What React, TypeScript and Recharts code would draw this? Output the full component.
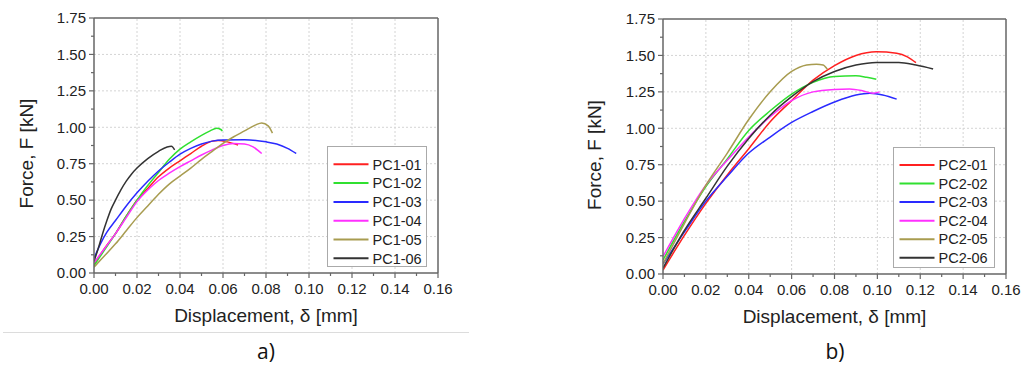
import React from 'react';
import { LineChart, Line, XAxis, YAxis, ReferenceLine } from 'recharts';

// ---------- axis ticks ----------
const xMajor = [0, 0.02, 0.04, 0.06, 0.08, 0.1, 0.12, 0.14, 0.16];
const xMinor = [0.01, 0.03, 0.05, 0.07, 0.09, 0.11, 0.13, 0.15];
const yMajor = [0, 0.25, 0.5, 0.75, 1.0, 1.25, 1.5, 1.75];
const yMinor = [0.125, 0.375, 0.625, 0.875, 1.125, 1.375, 1.625];

// ---------- series names / colours ----------
const pc1Names = ['PC1-01', 'PC1-02', 'PC1-03', 'PC1-04', 'PC1-05', 'PC1-06'];
const pc2Names = ['PC2-01', 'PC2-02', 'PC2-03', 'PC2-04', 'PC2-05', 'PC2-06'];
const colors = ['#ff2020', '#30e030', '#2a2aff', '#ff30ff', '#a89c50', '#333333'];

type P = { x: number; y: number };
const pts = (a: number[][]): P[] => a.map(([x, y]) => ({ x, y }));

// ---------- panel a) data ----------
const pc1_01 = pts([[0, 0.06], [0.005, 0.17], [0.01, 0.27], [0.015, 0.39], [0.02, 0.5], [0.025, 0.58], [0.03, 0.66], [0.035, 0.72], [0.04, 0.77], [0.045, 0.82], [0.05, 0.87], [0.055, 0.905], [0.058, 0.91], [0.062, 0.9], [0.067, 0.878]]);
const pc1_02 = pts([[0, 0.05], [0.005, 0.16], [0.01, 0.27], [0.015, 0.39], [0.02, 0.5], [0.025, 0.6], [0.03, 0.69], [0.035, 0.78], [0.04, 0.85], [0.045, 0.9], [0.05, 0.945], [0.054, 0.975], [0.057, 0.993], [0.059, 0.985], [0.0597, 0.975]]);
const pc1_03 = pts([[0, 0.1], [0.003, 0.2], [0.006, 0.28], [0.01, 0.36], [0.015, 0.46], [0.02, 0.55], [0.025, 0.63], [0.03, 0.7], [0.035, 0.76], [0.04, 0.815], [0.045, 0.855], [0.05, 0.885], [0.055, 0.905], [0.06, 0.913], [0.07, 0.915], [0.08, 0.9], [0.085, 0.885], [0.09, 0.855], [0.094, 0.82]]);
const pc1_04 = pts([[0, 0.07], [0.005, 0.17], [0.01, 0.27], [0.015, 0.38], [0.02, 0.49], [0.025, 0.57], [0.03, 0.635], [0.035, 0.685], [0.04, 0.73], [0.045, 0.77], [0.05, 0.81], [0.055, 0.845], [0.06, 0.875], [0.065, 0.888], [0.07, 0.885], [0.074, 0.865], [0.078, 0.82]]);
const pc1_05 = pts([[0, 0.04], [0.005, 0.12], [0.01, 0.2], [0.015, 0.29], [0.02, 0.38], [0.025, 0.46], [0.03, 0.54], [0.035, 0.61], [0.04, 0.665], [0.045, 0.72], [0.05, 0.78], [0.055, 0.835], [0.06, 0.89], [0.065, 0.935], [0.07, 0.975], [0.075, 1.015], [0.078, 1.03], [0.081, 1.01], [0.083, 0.96]]);
const pc1_06 = pts([[0, 0.08], [0.002, 0.17], [0.004, 0.27], [0.006, 0.36], [0.008, 0.44], [0.01, 0.5], [0.0125, 0.57], [0.015, 0.63], [0.0175, 0.68], [0.02, 0.72], [0.025, 0.785], [0.03, 0.835], [0.034, 0.865], [0.036, 0.87], [0.0375, 0.845]]);

// ---------- panel b) data ----------
const pc2_01 = pts([[0, 0.027], [0.0096, 0.256], [0.02, 0.485], [0.03, 0.68], [0.04, 0.86], [0.05, 1.045], [0.06, 1.19], [0.07, 1.33], [0.08, 1.43], [0.09, 1.5], [0.0995, 1.525], [0.109, 1.515], [0.114, 1.49], [0.118, 1.45]]);
const pc2_02 = pts([[0, 0.096], [0.0096, 0.35], [0.02, 0.6], [0.03, 0.79], [0.04, 0.985], [0.05, 1.12], [0.06, 1.235], [0.07, 1.315], [0.08, 1.355], [0.09, 1.36], [0.095, 1.35], [0.0995, 1.336]]);
const pc2_03 = pts([[0, 0.07], [0.0096, 0.28], [0.02, 0.5], [0.03, 0.67], [0.04, 0.83], [0.05, 0.94], [0.06, 1.04], [0.07, 1.115], [0.08, 1.18], [0.09, 1.228], [0.0965, 1.24], [0.1025, 1.228], [0.109, 1.2]]);
const pc2_04 = pts([[0, 0.12], [0.0096, 0.37], [0.02, 0.61], [0.03, 0.78], [0.04, 0.94], [0.05, 1.08], [0.06, 1.19], [0.07, 1.25], [0.08, 1.267], [0.087, 1.27], [0.093, 1.258], [0.098, 1.24], [0.101, 1.25]]);
const pc2_05 = pts([[0, 0.07], [0.0096, 0.336], [0.02, 0.61], [0.03, 0.83], [0.04, 1.06], [0.05, 1.25], [0.06, 1.39], [0.067, 1.434], [0.0716, 1.44], [0.0747, 1.434], [0.0767, 1.404]]);
const pc2_06 = pts([[0, 0.04], [0.0096, 0.29], [0.02, 0.52], [0.03, 0.74], [0.04, 0.93], [0.05, 1.09], [0.06, 1.217], [0.07, 1.32], [0.08, 1.39], [0.09, 1.434], [0.0995, 1.452], [0.11, 1.452], [0.118, 1.434], [0.126, 1.407]]);

const pc1Series = [pc1_01, pc1_02, pc1_03, pc1_04, pc1_05, pc1_06];
const pc2Series = [pc2_01, pc2_02, pc2_03, pc2_04, pc2_05, pc2_06];

const FONT = '"Liberation Sans", Arial, sans-serif';
const AXIS = '#666';
const xTicks = [...xMajor, ...xMinor].sort((a, b) => a - b);
const yTicks = [...yMajor, ...yMinor].sort((a, b) => a - b);

const XTick = (props: any) => {
  const { x, y, payload } = props;
  const major = xMajor.includes(payload.value);
  return (
    <g>
      <line x1={x} x2={x} y1={y} y2={y + (major ? 5 : 3)} stroke={AXIS} strokeWidth={1.2} />
      {major && (
        <text x={x} y={y + 21} textAnchor="middle" fontSize={15} fontFamily={FONT} fill="#222">
          {payload.value.toFixed(2)}
        </text>
      )}
    </g>
  );
};

const YTick = (props: any) => {
  const { x, y, payload } = props;
  const major = yMajor.includes(payload.value);
  return (
    <g>
      <line x1={x} x2={x - (major ? 5 : 3)} y1={y} y2={y} stroke={AXIS} strokeWidth={1.2} />
      {major && (
        <text x={x - 8} y={y + 5.3} textAnchor="end" fontSize={15} fontFamily={FONT} fill="#222">
          {payload.value.toFixed(2)}
        </text>
      )}
    </g>
  );
};

type PanelProps = {
  series: P[][];
  names: string[];
  width: number;
  height: number;
  margin: { top: number; right: number; bottom: number; left: number };
  yAxisWidth: number;
  xAxisHeight: number;
};

const Panel = ({ series, names, width, height, margin, yAxisWidth, xAxisHeight }: PanelProps) => (
  <LineChart width={width} height={height} margin={margin}>
    <XAxis
      type="number"
      dataKey="x"
      domain={[0, 0.16]}
      ticks={xTicks}
      interval={0}
      tickSize={0}
      tickMargin={0}
      tickLine={false}
      tick={XTick}
      height={xAxisHeight}
      axisLine={{ stroke: AXIS, strokeWidth: 1.5 }}
      allowDataOverflow
    />
    <YAxis
      type="number"
      dataKey="y"
      domain={[0, 1.75]}
      ticks={yTicks}
      interval={0}
      tickSize={0}
      tickMargin={0}
      tickLine={false}
      tick={YTick}
      width={yAxisWidth}
      axisLine={{ stroke: AXIS, strokeWidth: 1.5 }}
      allowDataOverflow
    />
    {xMajor.slice(1, -1).map((v) => (
      <ReferenceLine key={'gx' + v} x={v} stroke="#d4d4d4" strokeDasharray="2 2" strokeWidth={1} />
    ))}
    {yMajor.slice(1, -1).map((v) => (
      <ReferenceLine key={'gy' + v} y={v} stroke="#d4d4d4" strokeDasharray="2 2" strokeWidth={1} />
    ))}
    <ReferenceLine x={0.16} stroke={AXIS} strokeWidth={1.5} />
    <ReferenceLine y={1.75} stroke={AXIS} strokeWidth={1.5} />
    {series.map((d, i) => (
      <Line
        key={names[i]}
        data={d}
        dataKey="y"
        name={names[i]}
        type="monotone"
        stroke={colors[i]}
        strokeWidth={1.5}
        dot={false}
        activeDot={false}
        isAnimationActive={false}
      />
    ))}
  </LineChart>
);

const LegendBox = ({ names, left, top, w, h, row0, dy }: { names: string[]; left: number; top: number; w: number; h: number; row0: number; dy: number }) => (
  <g>
    <rect x={left} y={top} width={w} height={h} fill="#fff" stroke="#aaa" strokeWidth={1} />
    {names.map((n, i) => {
      const cy = row0 + i * dy;
      return (
        <g key={n}>
          <line x1={left + 6} x2={left + 41} y1={cy} y2={cy} stroke={colors[i]} strokeWidth={2} />
          <text x={left + 45} y={cy + 5.2} fontSize={14.5} fontFamily={FONT} fill="#222">
            {n}
          </text>
        </g>
      );
    })}
  </g>
);

export default function App() {
  return (
    <div style={{ position: 'absolute', left: 0, top: 0, width: 1024, height: 367, overflow: 'hidden', background: '#fff' }}>
      <div style={{ position: 'absolute', left: 0, top: 0 }}>
        <Panel
          series={pc1Series}
          names={pc1Names}
          width={460}
          height={330}
          margin={{ top: 18, right: 22, bottom: 0, left: 0 }}
          yAxisWidth={94}
          xAxisHeight={57}
        />
      </div>
      <div style={{ position: 'absolute', left: 560, top: 0 }}>
        <Panel
          series={pc2Series}
          names={pc2Names}
          width={464}
          height={330}
          margin={{ top: 19, right: 18, bottom: 0, left: 0 }}
          yAxisWidth={103}
          xAxisHeight={56}
        />
      </div>
      <svg width={1024} height={367} style={{ position: 'absolute', left: 0, top: 0, pointerEvents: 'none' }}>
        <LegendBox names={pc1Names} left={327.5} top={146.5} w={99} h={120} row0={164.3} dy={18.8} />
        <LegendBox names={pc2Names} left={893.5} top={147.5} w={101} h={120} row0={165} dy={18.55} />
        <text transform="translate(33,153.5) rotate(-90)" textAnchor="middle" fontSize={19} fontFamily={FONT} fill="#222">
          Force, F [kN]
        </text>
        <text transform="translate(601,155) rotate(-90)" textAnchor="middle" fontSize={19} fontFamily={FONT} fill="#222">
          Force, F [kN]
        </text>
        <text x={266} y={322} textAnchor="middle" fontSize={19} fontFamily={FONT} fill="#222">
          Displacement, δ [mm]
        </text>
        <text x={834.5} y={323} textAnchor="middle" fontSize={19} fontFamily={FONT} fill="#222">
          Displacement, δ [mm]
        </text>
        <line x1={3} x2={469} y1={332.5} y2={332.5} stroke="#dcdcdc" strokeWidth={1} />
        <text x={266} y={359} textAnchor="middle" fontSize={21} fontFamily='"Open Sans", "Noto Sans", sans-serif' fill="#111">
          a)
        </text>
        <text x={835} y={359} textAnchor="middle" fontSize={21} fontFamily='"Open Sans", "Noto Sans", sans-serif' fill="#111">
          b)
        </text>
      </svg>
    </div>
  );
}
